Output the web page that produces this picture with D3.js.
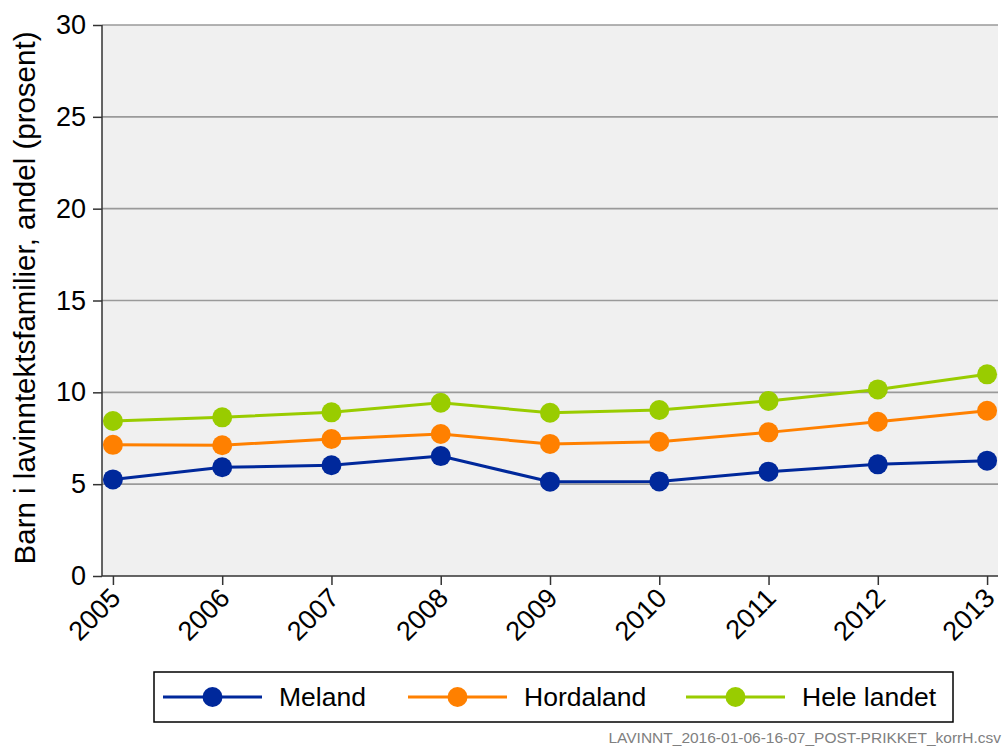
<!DOCTYPE html>
<html><head><meta charset="utf-8">
<script src="https://cdn.jsdelivr.net/npm/d3@7"></script>
<style>body{margin:0;background:#fff;font-family:"Liberation Sans",Arial,sans-serif}</style>
</head><body><svg id="c" width="1005" height="747"></svg>
<script>
const years = ["2005","2006","2007","2008","2009","2010","2011","2012","2013"];
const meland = [5.26,5.92,6.03,6.53,5.13,5.15,5.68,6.08,6.28];
const hordaland = [7.14,7.12,7.46,7.73,7.19,7.31,7.82,8.40,9.00];
const heleLandet = [8.44,8.64,8.91,9.43,8.89,9.04,9.53,10.16,10.98];
const seriesNames = ["Meland","Hordaland","Hele landet"];
const yTicks = [0,5,10,15,20,25,30];
const colors = ["#00289b","#ff8000","#99cc00"];
const seriesVals = [meland, hordaland, heleLandet];
const FONT = "Liberation Sans, Arial, sans-serif";

const svg = d3.select("#c");
const L=102,R=998,T=25,B=576;
const x = d3.scalePoint().domain(years).range([L,R]).padding(0.1);
const y = d3.scaleLinear().domain([0,30]).range([B,T]);

svg.append("rect").attr("x",L).attr("y",T).attr("width",R-L).attr("height",B-T).attr("fill","#f0f0f0");
// grid
svg.append("g").selectAll("line").data(yTicks.filter(d=>d>0)).join("line")
  .attr("x1",L).attr("x2",R).attr("y1",d=>y(d)).attr("y2",d=>y(d))
  .attr("stroke","#9a9a9a").attr("stroke-width",1.6);

// y axis
const ya = svg.append("g").attr("transform",`translate(${L},0)`)
  .call(d3.axisLeft(y).tickValues(yTicks).tickSize(9).tickPadding(7));
ya.attr("font-size",27).attr("font-family",FONT);
ya.select(".domain").attr("stroke","#333").attr("stroke-width",1.5).attr("d",`M0,${T}V${B}`);
ya.selectAll(".tick line").attr("stroke","#333").attr("stroke-width",1.5);
ya.selectAll("text").attr("fill","#000");

// x axis
const xa = svg.append("g").attr("transform",`translate(0,${B})`)
  .call(d3.axisBottom(x).tickSize(9));
xa.attr("font-size",27).attr("font-family",FONT);
xa.select(".domain").attr("stroke","#333").attr("stroke-width",1.5).attr("d",`M${L},0H${R}`);
xa.selectAll(".tick line").attr("stroke","#333").attr("stroke-width",1.5);
xa.selectAll("text").attr("fill","#000")
  .attr("text-anchor","end").attr("x",0).attr("y",0).attr("dy","0.35em")
  .attr("transform","translate(2,17) rotate(-45)");

// axis title
svg.append("text").attr("transform",`translate(35,298) rotate(-90)`)
  .attr("text-anchor","middle").attr("font-size",29.5).attr("fill","#000").attr("font-family",FONT)
  .text("Barn i lavinntektsfamilier, andel (prosent)");

// lines
const line = d3.line().x((d,i)=>x(years[i])).y(d=>y(d));
seriesVals.forEach((vals,k)=>{
  svg.append("path").datum(vals).attr("d",line).attr("fill","none")
    .attr("stroke",colors[k]).attr("stroke-width",3);
});
seriesVals.forEach((vals,k)=>{
  svg.append("g").selectAll("circle").data(vals).join("circle")
    .attr("cx",(d,i)=>x(years[i])).attr("cy",d=>y(d)).attr("r",10).attr("fill",colors[k]);
});

// legend
const lg = svg.append("g").attr("font-family",FONT);
lg.append("rect").attr("x",154).attr("y",672).attr("width",799).attr("height",50)
  .attr("fill","#fff").attr("stroke","#000").attr("stroke-width",1.5);
const lx = [163,408,686];
seriesNames.forEach((n,k)=>{
  lg.append("line").attr("x1",lx[k]).attr("x2",lx[k]+99).attr("y1",697).attr("y2",697)
    .attr("stroke",colors[k]).attr("stroke-width",3);
  lg.append("circle").attr("cx",lx[k]+49.5).attr("cy",697).attr("r",10).attr("fill",colors[k]);
  lg.append("text").attr("x",lx[k]+116).attr("y",697).attr("dy","0.35em")
    .attr("font-size",26.5).attr("fill","#000").text(n);
});

svg.append("text").attr("x",1001).attr("y",743).attr("text-anchor","end").attr("font-family",FONT)
  .attr("font-size",15.5).attr("fill","#808080").text("LAVINNT_2016-01-06-16-07_POST-PRIKKET_korrH.csv");
</script></body></html>
